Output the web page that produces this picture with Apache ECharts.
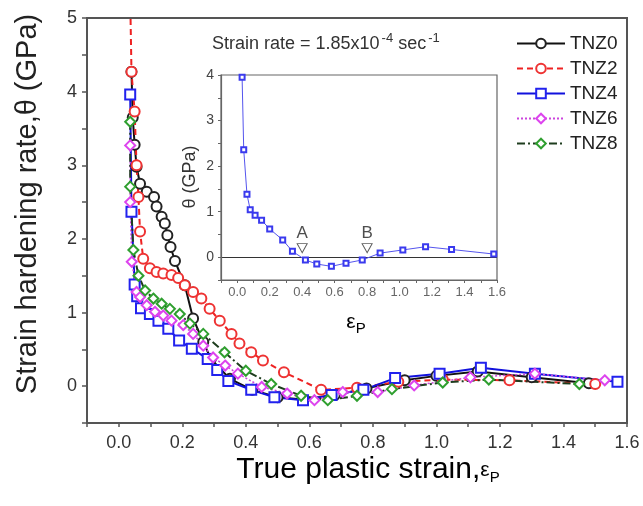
<!DOCTYPE html>
<html>
<head>
<meta charset="utf-8">
<script src="https://cdn.jsdelivr.net/npm/echarts@6/dist/echarts.min.js"></script>
<style>
  html, body { margin: 0; padding: 0; background: #fff; }
  #chart { width: 643px; height: 506px; }
</style>
</head>
<body>
<div id="chart"></div>
<script>
// Strain hardening rate vs. true plastic strain for the TNZ alloys
const seriesNames = ['TNZ0', 'TNZ2', 'TNZ4', 'TNZ6', 'TNZ8'];

const tnz0X = [0.040, 0.044, 0.050, 0.056, 0.067, 0.088, 0.111, 0.119, 0.135, 0.145, 0.153, 0.163, 0.177, 0.208, 0.234, 0.266, 0.290, 0.350, 0.420, 0.500, 0.580, 0.680, 0.780, 0.900, 1.000, 1.130, 1.300, 1.480];
const tnz0Y = [4.27, 3.65, 3.28, 2.98, 2.75, 2.64, 2.57, 2.44, 2.30, 2.21, 2.05, 1.89, 1.70, 1.37, 0.92, 0.60, 0.37, 0.10, -0.05, -0.15, -0.18, -0.12, -0.03, 0.08, 0.14, 0.20, 0.12, 0.04];

const tnz2X = [0.034, 0.040, 0.050, 0.056, 0.062, 0.067, 0.077, 0.098, 0.119, 0.140, 0.166, 0.187, 0.208, 0.234, 0.260, 0.286, 0.318, 0.355, 0.380, 0.417, 0.454, 0.520, 0.637, 0.750, 0.880, 1.020, 1.230, 1.500];
const tnz2Y = [5.80, 4.27, 3.73, 3.00, 2.57, 2.10, 1.73, 1.60, 1.55, 1.53, 1.51, 1.47, 1.37, 1.28, 1.19, 1.05, 0.89, 0.71, 0.58, 0.46, 0.35, 0.19, -0.05, -0.02, 0.06, 0.09, 0.08, 0.03];

const tnz4X = [0.036, 0.040, 0.050, 0.058, 0.070, 0.098, 0.125, 0.156, 0.190, 0.230, 0.280, 0.310, 0.345, 0.417, 0.490, 0.580, 0.670, 0.770, 0.870, 1.010, 1.140, 1.310, 1.570];
const tnz4Y = [3.96, 2.37, 1.38, 1.22, 1.06, 0.98, 0.89, 0.78, 0.62, 0.51, 0.37, 0.22, 0.07, -0.05, -0.15, -0.19, -0.12, -0.05, 0.11, 0.17, 0.25, 0.17, 0.06];

const tnz6X = [0.036, 0.036, 0.041, 0.056, 0.067, 0.088, 0.114, 0.140, 0.166, 0.203, 0.234, 0.266, 0.297, 0.335, 0.375, 0.450, 0.530, 0.616, 0.705, 0.815, 0.930, 1.107, 1.310, 1.530];
const tnz6Y = [3.27, 2.50, 1.69, 1.28, 1.21, 1.10, 1.01, 0.96, 0.89, 0.83, 0.71, 0.55, 0.39, 0.28, 0.17, -0.01, -0.10, -0.19, -0.08, -0.08, 0.01, 0.12, 0.17, 0.08];

const tnz8X = [0.036, 0.036, 0.046, 0.062, 0.083, 0.109, 0.135, 0.161, 0.192, 0.224, 0.266, 0.333, 0.400, 0.480, 0.574, 0.658, 0.750, 0.860, 1.020, 1.165, 1.450];
const tnz8Y = [3.59, 2.71, 1.85, 1.50, 1.30, 1.19, 1.12, 1.05, 0.98, 0.85, 0.71, 0.46, 0.21, 0.03, -0.13, -0.19, -0.13, -0.04, 0.05, 0.09, 0.03];

// Inset: TNZ4 curve with the two zero crossings A and B
const insetX = [0.03, 0.04, 0.06, 0.08, 0.11, 0.15, 0.20, 0.28, 0.34, 0.42, 0.49, 0.58, 0.67, 0.77, 0.88, 1.02, 1.16, 1.32, 1.58];
const insetY = [3.95, 2.36, 1.38, 1.04, 0.92, 0.81, 0.62, 0.38, 0.13, -0.06, -0.15, -0.20, -0.13, -0.06, 0.09, 0.16, 0.23, 0.17, 0.07];
const crossLabels = ['A', 'B'];
const crossX = [0.40, 0.80];
const crossY = [0.20, 0.20];

const pairs = (xs, ys) => xs.map((x, i) => [x, ys[i]]);
const FONT = 'Liberation Sans, Arial, sans-serif';

const evenTenth = v => {
  const k = Math.round(v * 10);
  return (k >= 0 && k % 2 === 0) ? (k / 10).toFixed(1) : '';
};
const wholeOnly = v => (Math.abs(v - Math.round(v)) < 1e-6) ? String(Math.round(v)) : '';

const chart = echarts.init(document.getElementById('chart'), null, { renderer: 'canvas' });

const mainLine = (name, xs, ys, symbol, color, lineColor, type, width) => ({
  name, type: 'line', xAxisIndex: 0, yAxisIndex: 0,
  data: pairs(xs, ys),
  symbol, symbolSize: 10,
  itemStyle: { color, borderWidth: 1.5 },
  lineStyle: { color: lineColor, width, type },
  clip: true, animation: false, z: 3
});

chart.setOption({
  backgroundColor: '#fff',
  animation: false,
  textStyle: { fontFamily: FONT },
  grid: [
    { left: 87, right: 16, top: 18, bottom: 83, show: true, borderColor: '#555', borderWidth: 2, backgroundColor: 'transparent' },
    { left: 221, right: 146, top: 75, bottom: 226, show: true, borderColor: '#666', borderWidth: 1.2, backgroundColor: '#fff', z: 5 }
  ],
  xAxis: [
    {
      type: 'value', gridIndex: 0, min: -0.1, max: 1.6, interval: 0.1,
      axisLine: { show: true, onZero: false, lineStyle: { color: '#555', width: 2 } },
      axisTick: { show: true, inside: false, length: 4, lineStyle: { color: '#555', width: 1.5 } },
      axisLabel: { formatter: evenTenth, fontSize: 18, color: '#333', margin: 11, fontFamily: FONT },
      splitLine: { show: false }
    },
    {
      type: 'value', gridIndex: 1, min: -0.1, max: 1.6, interval: 0.1,
      axisLine: { show: true, onZero: false, lineStyle: { color: '#666', width: 1.2 } },
      axisTick: { show: true, length: 3, lineStyle: { color: '#666' } },
      axisLabel: { formatter: evenTenth, fontSize: 13, color: '#666', margin: 6, fontFamily: FONT },
      splitLine: { show: false }, z: 6
    }
  ],
  yAxis: [
    {
      type: 'value', gridIndex: 0, min: -0.5, max: 5, interval: 0.5,
      axisLine: { show: true, onZero: false, lineStyle: { color: '#555', width: 2 } },
      axisTick: { show: true, length: 5, lineStyle: { color: '#555', width: 1.5 } },
      axisLabel: { formatter: wholeOnly, fontSize: 18, color: '#333', margin: 10, fontFamily: FONT },
      splitLine: { show: false }
    },
    {
      type: 'value', gridIndex: 1, min: -0.5, max: 4, interval: 0.5,
      axisLine: { show: true, onZero: false, lineStyle: { color: '#666', width: 1.2 } },
      axisTick: { show: true, length: 3, lineStyle: { color: '#666' } },
      axisLabel: { formatter: wholeOnly, fontSize: 14, color: '#444', margin: 7, fontFamily: FONT },
      splitLine: { show: false }, z: 6
    }
  ],
  legend: {
    data: seriesNames,
    orient: 'vertical', left: 511, top: 29,
    itemWidth: 48, itemHeight: 12, itemGap: 6,
    textStyle: { fontSize: 19, color: '#222', fontFamily: FONT },
    backgroundColor: 'transparent'
  },
  title: {
    text: 'Strain rate = 1.85x10{sup|-4} sec{sup|-1}',
    left: 207, top: 27,
    textStyle: {
      fontSize: 18, fontWeight: 'normal', color: '#333', fontFamily: FONT,
      rich: { sup: { fontSize: 13, verticalAlign: 'top', padding: [0, 0, 12, 2], color: '#333' } }
    }
  },
  graphic: [
    {
      type: 'text', x: 28, y: 204, rotation: Math.PI / 2,
      style: { text: 'Strain hardening rate,θ (GPa)', font: '29px ' + FONT, fill: '#222', textAlign: 'center', textVerticalAlign: 'middle' }
    },
    {
      type: 'text', x: 368, y: 470,
      style: {
        text: '{t|True plastic strain,}{e|ε}{s|P}',
        textAlign: 'center', textVerticalAlign: 'middle',
        rich: {
          t: { fontSize: 30, fontFamily: FONT, color: '#222' },
          e: { fontSize: 21, fontFamily: FONT, color: '#222' },
          s: { fontSize: 15, fontFamily: FONT, color: '#222', padding: [16, 0, 0, 0] }
        }
      }
    },
    {
      type: 'text', x: 190, y: 177, rotation: Math.PI / 2, z: 10,
      style: { text: 'θ (GPa)', font: '18px ' + FONT, fill: '#333', textAlign: 'center', textVerticalAlign: 'middle' }
    },
    {
      type: 'text', x: 356, y: 322, z: 10,
      style: {
        text: '{e|ε}{s|P}', textAlign: 'center', textVerticalAlign: 'middle',
        rich: {
          e: { fontSize: 21, fontFamily: FONT, color: '#333' },
          s: { fontSize: 15, fontFamily: FONT, color: '#333', padding: [14, 0, 0, 0] }
        }
      }
    }
  ],
  series: [
    mainLine('TNZ0', tnz0X, tnz0Y, 'emptyCircle', '#222', '#111', 'solid', 2),
    mainLine('TNZ2', tnz2X, tnz2Y, 'emptyCircle', '#ee3333', '#ee2222', [6, 4], 2),
    mainLine('TNZ4', tnz4X, tnz4Y, 'emptyRect', '#2222ee', '#1111dd', 'solid', 2),
    mainLine('TNZ6', tnz6X, tnz6Y, 'emptyDiamond', '#dd44ee', '#cc44dd', [2, 2], 1.5),
    mainLine('TNZ8', tnz8X, tnz8Y, 'emptyDiamond', '#2f9f2f', '#1e3d1e', [8, 3, 2, 3], 2),
    {
      name: 'inset', type: 'line', xAxisIndex: 1, yAxisIndex: 1,
      data: pairs(insetX, insetY),
      symbol: 'emptyRect', symbolSize: 5,
      itemStyle: { color: '#3a3aee', borderWidth: 1.2 },
      lineStyle: { color: '#5555ee', width: 1 },
      z: 8, clip: true, legendHoverLink: false,
      markLine: {
        silent: true, symbol: 'none', animation: false,
        label: { show: false },
        lineStyle: { color: '#333', width: 1.2, type: 'solid' },
        data: [{ yAxis: 0 }]
      }
    },
    {
      name: 'crossings', type: 'scatter', xAxisIndex: 1, yAxisIndex: 1,
      data: crossX.map((x, i) => ({ value: [x, crossY[i]], label: { formatter: crossLabels[i] } })),
      symbol: 'triangle', symbolRotate: 180, symbolSize: [10, 9],
      itemStyle: { color: '#fff', borderColor: '#333', borderWidth: 1 },
      label: { show: true, position: 'top', distance: 1, fontSize: 17, color: '#222', fontFamily: FONT },
      z: 9
    }
  ]
});
</script>
</body>
</html>
